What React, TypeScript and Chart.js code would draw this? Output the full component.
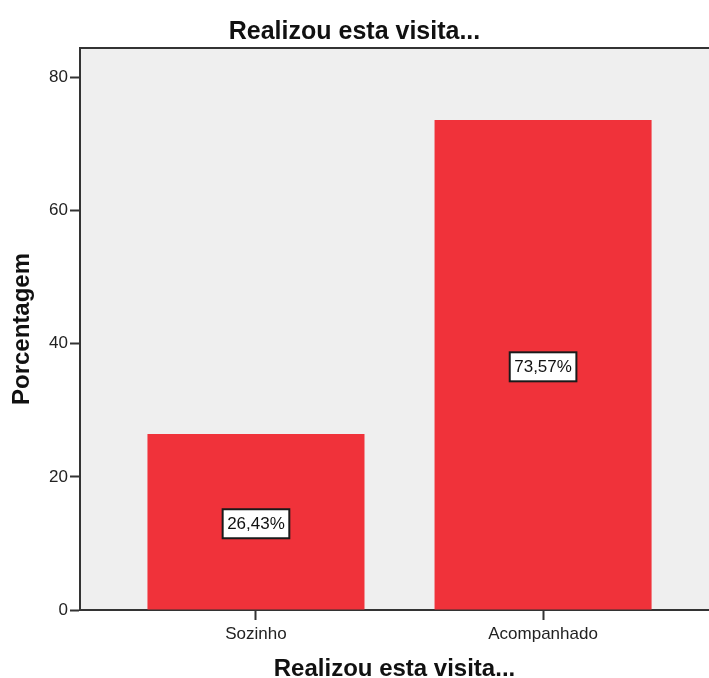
import React, { useEffect, useRef } from "react";
import { Chart, registerables } from "chart.js";

Chart.register(...registerables);

const categories = ["Sozinho", "Acompanhado"];
const percentages = [26.43, 73.57];
const percentLabels = ["26,43%", "73,57%"];
const yTicks = [0, 20, 40, 60, 80];
const chartTitle = "Realizou esta visita...";
const xTitle = "Realizou esta visita...";
const yTitle = "Porcentagem";

const FONT = "Arial, 'Liberation Sans', sans-serif";

const plotBackground = {
  id: "plotBackground",
  beforeDraw(chart: any) {
    const { ctx, chartArea } = chart;
    ctx.save();
    ctx.fillStyle = "#efefef";
    ctx.fillRect(chartArea.left, chartArea.top, chartArea.right - chartArea.left, chartArea.bottom - chartArea.top);
    ctx.restore();
  },
  afterDraw(chart: any) {
    const { ctx, chartArea } = chart;
    ctx.save();
    ctx.strokeStyle = "#333";
    ctx.lineWidth = 2;
    ctx.beginPath();
    ctx.moveTo(chartArea.left, chartArea.top);
    ctx.lineTo(chartArea.right, chartArea.top);
    ctx.stroke();
    ctx.restore();
  },
};

const boxLabels = {
  id: "boxLabels",
  afterDatasetsDraw(chart: any) {
    const { ctx } = chart;
    const meta = chart.getDatasetMeta(0);
    ctx.save();
    ctx.font = `17px ${FONT}`;
    ctx.textAlign = "center";
    ctx.textBaseline = "middle";
    meta.data.forEach((bar: any, i: number) => {
      const text = percentLabels[i];
      const cx = bar.x;
      const cy = (bar.y + bar.base) / 2 + 2;
      const w = ctx.measureText(text).width + 9;
      const h = 29;
      ctx.fillStyle = "#ffffff";
      ctx.fillRect(cx - w / 2, cy - h / 2, w, h);
      ctx.strokeStyle = "#1a1a1a";
      ctx.lineWidth = 2;
      ctx.strokeRect(cx - w / 2, cy - h / 2, w, h);
      ctx.fillStyle = "#111";
      ctx.fillText(text, cx, cy + 1);
    });
    ctx.restore();
  },
};

export default function App() {
  const canvasRef = useRef<HTMLCanvasElement | null>(null);

  useEffect(() => {
    if (!canvasRef.current) return;
    const chart = new Chart(canvasRef.current, {
      type: "bar",
      data: {
        datasets: [
          {
            data: percentages.map((v, i) => ({ x: i, y: v })),
            backgroundColor: "#f0323a",
            borderWidth: 0,
            categoryPercentage: 1,
            barPercentage: 0.756,
          },
        ],
      },
      options: {
        animation: false,
        responsive: false,
        maintainAspectRatio: false,
        layout: { padding: 0 },
        plugins: {
          legend: { display: false },
          tooltip: { enabled: false },
          title: {
            display: true,
            text: chartTitle,
            color: "#111",
            font: { family: FONT, size: 25, weight: "bold", lineHeight: 1.2 },
            padding: { top: 17, bottom: 1 },
          },
        },
        scales: {
          x: {
            type: "linear",
            offset: false,
            min: -0.613,
            max: 1.578,
            afterBuildTicks: (scale: any) => {
              scale.ticks = categories.map((_, i) => ({ value: i }));
            },
            afterFit: (scale: any) => {
              scale.height = 68;
            },
            ticks: {
              callback: (v: any) => categories[v as number] ?? "",
              color: "#222",
              font: { family: FONT, size: 17 },
              padding: 4,
              maxRotation: 0,
              autoSkip: false,
            },
            grid: {
              offset: false,
              drawOnChartArea: false,
              drawTicks: true,
              tickLength: 10,
              tickWidth: 2,
              color: "#333",
            },
            border: { display: true, color: "#333", width: 2 },
            title: {
              display: true,
              text: xTitle,
              color: "#111",
              font: { family: FONT, size: 24, weight: "bold", lineHeight: 0.75 },
              padding: 0,
            },
          },
          y: {
            type: "linear",
            min: 0,
            max: 84.4,
            afterBuildTicks: (scale: any) => {
              scale.ticks = yTicks.map((v) => ({ value: v }));
            },
            afterFit: (scale: any) => {
              scale.width = 80;
            },
            ticks: {
              color: "#222",
              font: { family: FONT, size: 17 },
              padding: 2,
            },
            grid: {
              drawOnChartArea: false,
              drawTicks: true,
              tickLength: 10,
              tickWidth: 2,
              color: "#333",
            },
            border: { display: true, color: "#333", width: 2 },
            title: {
              display: true,
              text: yTitle,
              color: "#111",
              font: { family: FONT, size: 24, weight: "bold", lineHeight: 0.75 },
              padding: { top: 13, bottom: 0 },
            },
          },
        },
      } as any,
      plugins: [plotBackground, boxLabels],
    });
    return () => chart.destroy();
  }, []);

  return (
    <div style={{ position: "fixed", left: 0, top: 0, width: 709, height: 678, background: "#fff" }}>
      <canvas ref={canvasRef} width={709} height={678} style={{ width: 709, height: 678, display: "block" }} />
    </div>
  );
}
